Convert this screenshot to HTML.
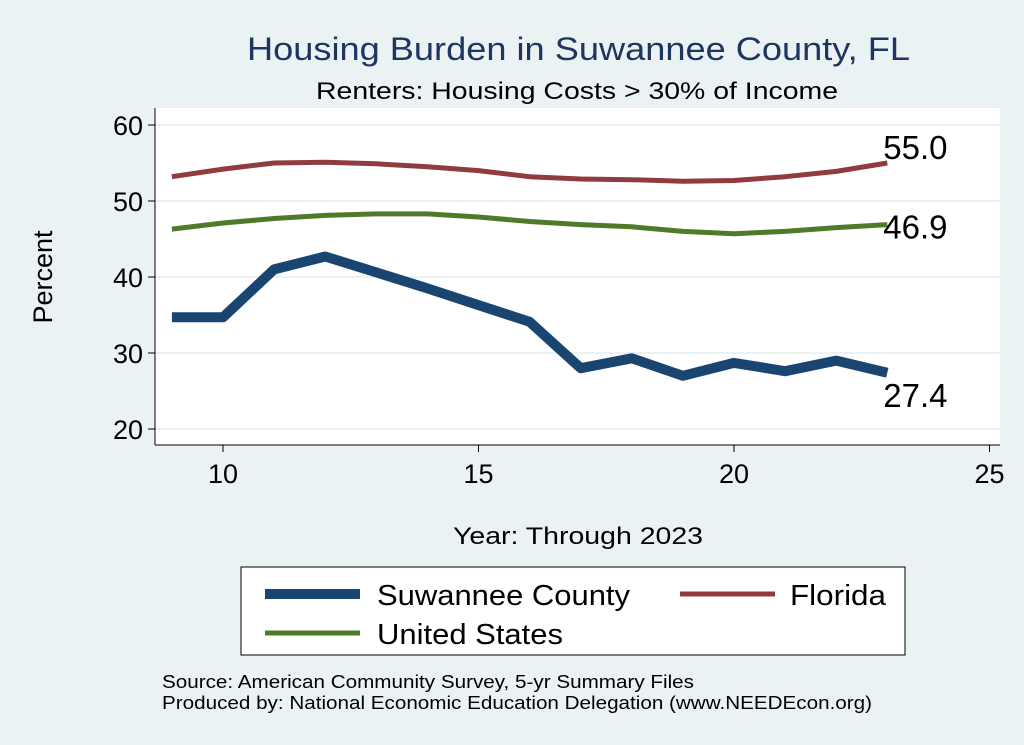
<!DOCTYPE html>
<html><head><meta charset="utf-8"><style>
body{margin:0;background:#eaf2f3;}
svg{display:block;font-family:"Liberation Sans",Arial,sans-serif;}
</style></head><body>
<svg id="chart" width="1024" height="745" viewBox="0 0 1024 745">
<rect x="0" y="0" width="1024" height="745" fill="#eaf2f3"/>
<text x="247" y="60" font-size="32" fill="#1e3560" textLength="663" lengthAdjust="spacingAndGlyphs">Housing Burden in Suwannee County, FL</text>
<text x="316" y="99" font-size="24" fill="#000" textLength="522" lengthAdjust="spacingAndGlyphs">Renters: Housing Costs &gt; 30% of Income</text>
<rect x="155" y="108" width="845" height="337" fill="#fff"/>
<g id="grid"></g>
<line x1="155" y1="108" x2="155" y2="445" stroke="#000" stroke-width="1"/>
<line x1="155" y1="445" x2="1000" y2="445" stroke="#000" stroke-width="1"/>
<g id="ticks"></g>
<g id="series"></g>
<text x="52" y="277" font-size="27" text-anchor="middle" transform="rotate(-90 52 277)">Percent</text>
<text x="453" y="544" font-size="24" textLength="250" lengthAdjust="spacingAndGlyphs">Year: Through 2023</text>
<g>
<rect x="241" y="567" width="664" height="88" fill="#fff" stroke="#000" stroke-width="1"/>
<line x1="265" y1="594" x2="360" y2="594" stroke="#1a4570" stroke-width="10"/>
<text x="377" y="605" font-size="29" textLength="253" lengthAdjust="spacingAndGlyphs">Suwannee County</text>
<line x1="680" y1="594" x2="775" y2="594" stroke="#8f3b3f" stroke-width="5"/>
<text x="790" y="605" font-size="29" textLength="96" lengthAdjust="spacingAndGlyphs">Florida</text>
<line x1="265" y1="633" x2="360" y2="633" stroke="#4f7a2a" stroke-width="5"/>
<text x="377" y="644" font-size="29" textLength="186" lengthAdjust="spacingAndGlyphs">United States</text>
</g>
<text x="162" y="688" font-size="18" textLength="532" lengthAdjust="spacingAndGlyphs">Source: American Community Survey, 5-yr Summary Files</text>
<text x="162" y="709" font-size="18" textLength="710" lengthAdjust="spacingAndGlyphs">Produced by: National Economic Education Delegation (www.NEEDEcon.org)</text>
</svg>
<script>
const years=[9,10,11,12,13,14,15,16,17,18,19,20,21,22,23];
const suwannee=[34.7,34.7,41.0,42.7,40.6,38.5,36.3,34.1,28.0,29.3,27.0,28.7,27.6,29.0,27.4];
const florida=[53.2,54.2,55.0,55.1,54.9,54.5,54.0,53.2,52.9,52.8,52.6,52.7,53.2,53.9,55.0];
const unitedStates=[46.3,47.1,47.7,48.1,48.3,48.3,47.9,47.3,46.9,46.6,46.0,45.7,46.0,46.5,46.9];
const xTicks=[10,15,20,25];
const yTicks=[20,30,40,50,60];
const NS='http://www.w3.org/2000/svg';
function xs(v){return 223+(v-10)*51.1;}
function ys(v){return 429-(v-20)*7.6;}
function mk(tag,attrs,parent){const e=document.createElementNS(NS,tag);for(const k in attrs)e.setAttribute(k,attrs[k]);parent.appendChild(e);return e;}
const grid=document.getElementById('grid'),ticks=document.getElementById('ticks'),ser=document.getElementById('series');
yTicks.forEach(t=>{
  const g=mk('line',{x1:155,x2:1000,y1:ys(t),y2:ys(t),stroke:'#eaf2f3','stroke-width':2},grid);
  
  
  const tk=mk('line',{x1:148,x2:155,y1:ys(t),y2:ys(t),stroke:'#000'},ticks);
  
  
  const tx=mk('text',{x:143,y:ys(t)+10,'font-size':27,'text-anchor':'end'},ticks);tx.textContent=t;
  
  
});
xTicks.forEach(t=>{
  const tk=mk('line',{x1:xs(t),x2:xs(t),y1:445,y2:452,stroke:'#000'},ticks);
  
  
  const tx=mk('text',{x:xs(t),y:483,'font-size':27,'text-anchor':'middle'},ticks);tx.textContent=t;
  
  
});
function line(vals,color,w,name){
  const d=vals.map((v,i)=>(i?'L':'M')+xs(years[i]).toFixed(1)+' '+ys(v).toFixed(1)).join(' ');
  const p=mk('path',{d:d,fill:'none',stroke:color,'stroke-width':w,'stroke-linejoin':'round'},ser);
  
  
}
line(florida,'#8f3b3f',5,'florida-line');
line(unitedStates,'#4f7a2a',5,'us-line');
line(suwannee,'#1a4570',10,'suwannee-line');
const last=years.length-1;
function lab(v,dy,name){
  const t=mk('text',{x:xs(years[last])-4,y:ys(v)+dy,'font-size':33},ser);t.textContent=v.toFixed(1);
  
  
}
lab(florida[last],-4,'florida-end-label');
lab(unitedStates[last],14,'us-end-label');
lab(suwannee[last],34,'suwannee-end-label');
</script>
</body></html>
